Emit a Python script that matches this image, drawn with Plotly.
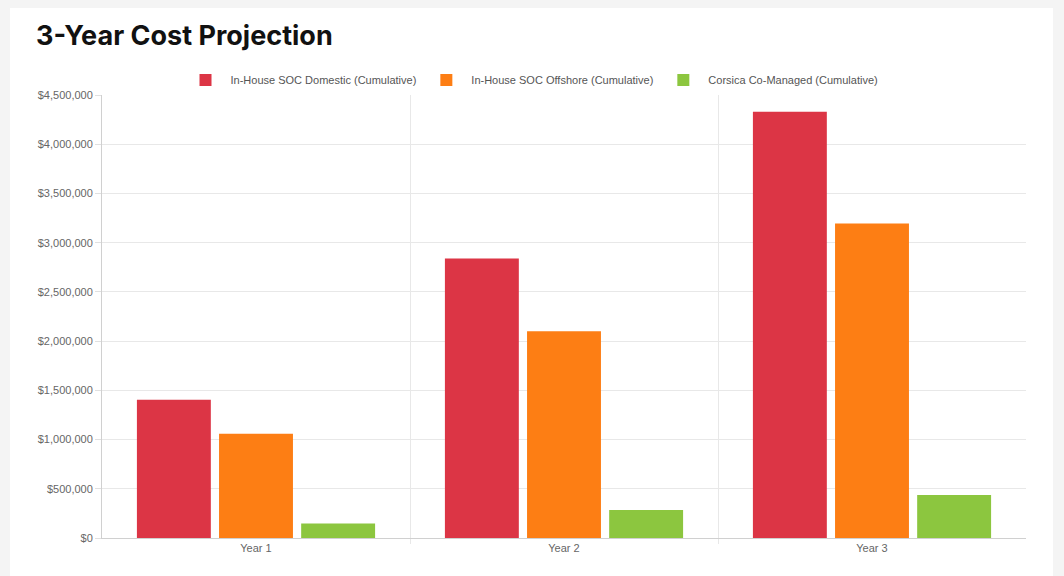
import plotly.graph_objects as go

years = ["Year 1", "Year 2", "Year 3"]
domestic = [1405000, 2840000, 4330000]
offshore = [1060000, 2100000, 3195000]
corsica = [147000, 284000, 436000]
series_names = [
    "In-House SOC Domestic (Cumulative)",
    "In-House SOC Offshore (Cumulative)",
    "Corsica Co-Managed (Cumulative)",
]
colors = ["#DC3545", "#FD7E14", "#8CC63F"]

W, H = 1064, 576
ml, mr, mt, mb = 102, 38, 95, 38
pw, ph = W - ml - mr, H - mt - mb

xpos = list(range(len(years)))
fig = go.Figure()
for name, vals, c in zip(series_names, [domestic, offshore, corsica], colors):
    fig.add_trace(go.Bar(x=xpos, y=vals, name=name, marker=dict(color=c, line=dict(width=0)),
                         hoverinfo="skip"))

# card background (white card on light grey page)
def px2paper_x(p):
    return (p - ml) / pw
def px2paper_y(p):
    return 1 - (p - mt) / ph

fig.add_shape(type="rect", xref="paper", yref="paper",
              x0=px2paper_x(10), x1=px2paper_x(1053), y0=px2paper_y(600), y1=px2paper_y(8),
              fillcolor="white", line=dict(width=0), layer="below")

fig.update_layout(
    width=W, height=H,
    margin=dict(l=ml, r=mr, t=mt, b=mb, autoexpand=False),
    paper_bgcolor="#F4F4F4",
    plot_bgcolor="rgba(0,0,0,0)",
    barmode="group",
    bargap=0.2,
    bargroupgap=0.1,
    font=dict(family="Liberation Sans, Arial, sans-serif", size=11, color="#666666"),
    title=dict(text="<b>3-Year Cost Projection</b>", x=36 / W, xanchor="left",
               xref="container", yref="container", y=1 - 36 / H, yanchor="middle",
               font=dict(family="Inter, sans-serif", size=27, color="#111111")),
    legend=dict(orientation="h", xref="container", x=0.5, xanchor="center",
                yref="container", y=1 - 80 / H, yanchor="middle",
                font=dict(size=11, color="#555555"), itemwidth=40,
                traceorder="normal", bgcolor="rgba(0,0,0,0)"),
    xaxis=dict(
        range=[-0.5, len(years) - 0.5],
        tickvals=xpos, ticktext=years,
        showgrid=False, zeroline=False,
        showline=True, linecolor="#D0D0D0", linewidth=1,
        ticks="", ticklen=0,
        minor=dict(tickvals=[0.5, 1.5], showgrid=True, gridcolor="#E8E8E8",
                   ticks="outside", ticklen=5, tickcolor="#E8E8E8"),
        tickfont=dict(size=11, color="#666666"),
        fixedrange=True,
    ),
    yaxis=dict(
        range=[0, 4500000], dtick=500000, tick0=0,
        tickformat="$,.0f",
        showgrid=True, gridcolor="#E8E8E8", gridwidth=1,
        zeroline=False,
        showline=True, linecolor="#D0D0D0", linewidth=1,
        ticks="outside", ticklen=6, tickcolor="#E0E0E0",
        tickfont=dict(size=11, color="#666666"),
        fixedrange=True,
    ),
    hovermode=False,
)

fig.write_html("out.html", config={"displayModeBar": False})
